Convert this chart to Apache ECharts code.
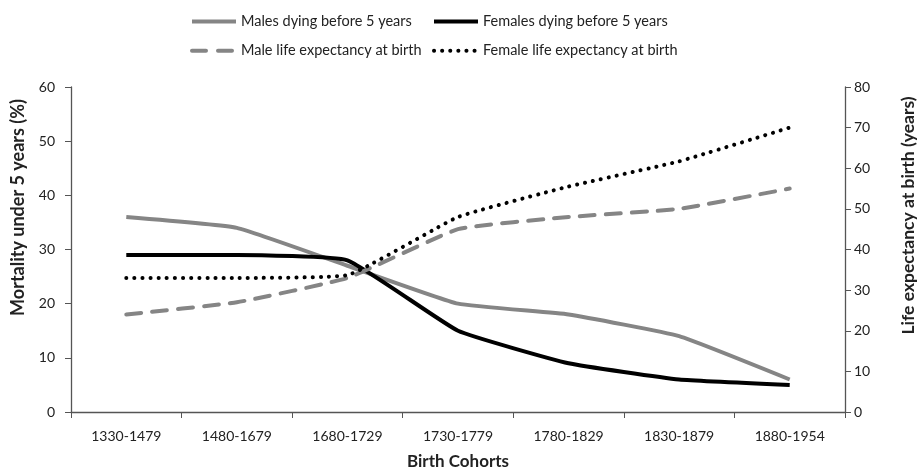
<!DOCTYPE html>
<html><head><meta charset="utf-8">
<script src="https://cdn.jsdelivr.net/npm/echarts@6/dist/echarts.min.js"></script>
<style>html,body{margin:0;padding:0;background:#fff}#c{width:919px;height:471px}</style>
</head><body><div id="c"></div>
<script>
const categories = ['1330-1479','1480-1679','1680-1729','1730-1779','1780-1829','1830-1879','1880-1954'];
const malesDying = [36, 34, 27, 20, 18, 14, 6];
const femalesDying = [29, 29, 28, 15, 9, 6, 5];
const maleLE = [24, 27, 33, 45, 48, 50, 55];
const femaleLE = [33, 33, 33.7, 48, 55.5, 61.7, 70];
const leftTicks = [0, 60, 10];
const rightTicks = [0, 80, 10];

const F = 'Lato, "Open Sans", sans-serif';
const GREY = '#858585';
const DASH = [15, 11];
const DOT = [0.1, 8];
const chart = echarts.init(document.getElementById('c'));
const axisLine = {show: true, lineStyle: {color: '#555', width: 1.3}};
const legTxt = {fontSize: 14.5, color: '#222', fontFamily: F};
const legBase = {orient: 'vertical', top: 9, itemGap: 14, itemWidth: 44, itemHeight: 19,
  textStyle: legTxt, itemStyle: {opacity: 0}};
chart.setOption({
  animation: false,
  textStyle: {fontFamily: F},
  legend: [
    Object.assign({}, legBase, {left: 185,
      data: [{name: 'Males dying before 5 years', lineStyle: {color: GREY, width: 4, type: 'solid'}},
             {name: 'Male life expectancy at birth', lineStyle: {color: GREY, width: 4, type: [14, 12], cap: 'round'}}]}),
    Object.assign({}, legBase, {left: 427,
      data: [{name: 'Females dying before 5 years', lineStyle: {color: '#000', width: 4, type: 'solid'}},
             {name: 'Female life expectancy at birth', lineStyle: {color: '#000', width: 4, type: DOT, cap: 'round'}}]})
  ],
  grid: {left: 71, right: 74, top: 87, bottom: 59, outerBoundsMode: 'none', containLabel: false},
  xAxis: {
    type: 'category', data: categories, boundaryGap: true,
    axisLine: axisLine, axisTick: {show: true, length: 6, lineStyle: {color: '#555'}},
    axisLabel: {fontSize: 14, color: '#222', margin: 17, fontFamily: F},
    name: 'Birth Cohorts', nameLocation: 'middle', nameGap: 41,
    nameTextStyle: {fontSize: 17, fontWeight: 'bold', color: '#222', fontFamily: F}
  },
  yAxis: [
    {type: 'value', min: leftTicks[0], max: leftTicks[1], interval: leftTicks[2],
     axisLine: axisLine, axisTick: {show: true, length: 6, lineStyle: {color: '#555'}},
     splitLine: {show: false},
     axisLabel: {fontSize: 14, color: '#222', margin: 16, fontFamily: F},
     name: 'Mortality under 5 years (%)', nameLocation: 'middle', nameGap: 44, nameRotate: 90,
     nameTextStyle: {fontSize: 18, fontWeight: 'bold', color: '#222', fontFamily: F, padding: [0, 0, 0, 84]}},
    {type: 'value', min: rightTicks[0], max: rightTicks[1], interval: rightTicks[2],
     position: 'right',
     axisLine: axisLine, axisTick: {show: true, length: 6, lineStyle: {color: '#555'}},
     splitLine: {show: false},
     axisLabel: {fontSize: 14, color: '#222', margin: 9, fontFamily: F},
     name: 'Life expectancy at birth (years)', nameLocation: 'middle', nameGap: 54, nameRotate: 90,
     nameTextStyle: {fontSize: 17.5, fontWeight: 'bold', color: '#222', fontFamily: F, padding: [0, 0, 0, 68]}}
  ],
  series: [
    {name: 'Males dying before 5 years', type: 'line', data: malesDying, yAxisIndex: 0,
     symbol: 'none', smooth: 0.12, color: GREY,
     lineStyle: {color: GREY, width: 4}},
    {name: 'Females dying before 5 years', type: 'line', data: femalesDying, yAxisIndex: 0,
     symbol: 'none', smooth: 0.12, color: '#000',
     lineStyle: {color: '#000', width: 4}},
    {name: 'Male life expectancy at birth', type: 'line', data: maleLE, yAxisIndex: 1,
     symbol: 'none', smooth: 0.12, color: GREY,
     lineStyle: {color: GREY, width: 4, type: DASH, cap: 'round'}},
    {name: 'Female life expectancy at birth', type: 'line', data: femaleLE, yAxisIndex: 1,
     symbol: 'none', smooth: 0.12, color: '#000',
     lineStyle: {color: '#000', width: 4, type: DOT, cap: 'round'}}
  ]
});
</script></body></html>
